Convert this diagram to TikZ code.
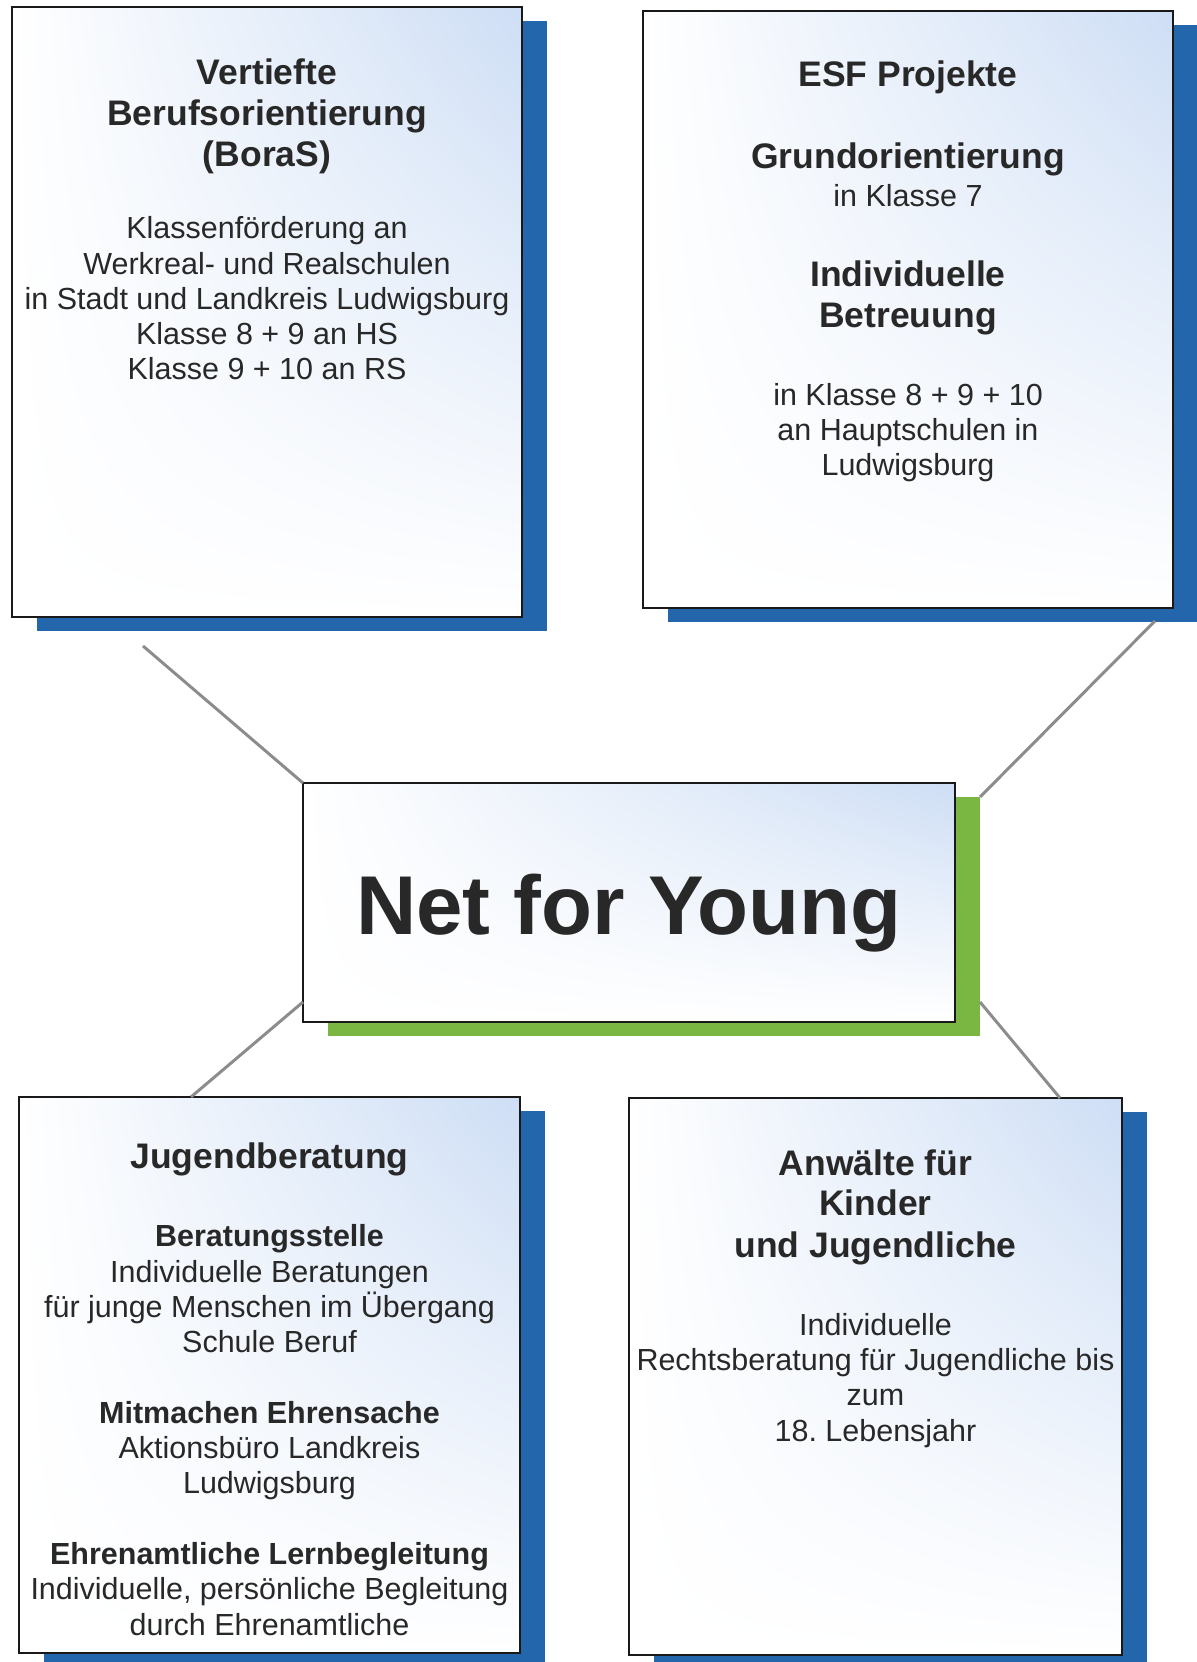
\documentclass[tikz,border=0pt]{standalone}
\usepackage{fontspec}
\setmainfont{Liberation Sans}
\usetikzlibrary{backgrounds,shadings}

\definecolor{shadowblue}{RGB}{36,102,172}
\definecolor{shadowgreen}{RGB}{122,182,66}
\definecolor{boxtint}{RGB}{206,222,245}
\definecolor{textgray}{RGB}{40,40,40}

% font sizes (same baselineskip everywhere, gaps are set by hand)
\newcommand\bodysize{\fontsize{17.35pt}{20.07pt}\selectfont}
\newcommand\headsize{\fontsize{20.2pt}{20.07pt}\selectfont\bfseries}
\frenchspacing

\tikzset{
  panel/.style={draw=black!90, line width=0.75pt, inner sep=0pt, outer sep=0pt,
    shade, upper right=boxtint, upper left=white, lower left=white, lower right=white},
  paneltext/.style={anchor=north, align=center, inner sep=0pt, text=textgray, font=\bodysize},
  link/.style={draw=black!45, line width=1.7pt}
}

\begin{document}
\begin{tikzpicture}
	\useasboundingbox (0,0) rectangle (23.92,33.24);

	% the five panels
	\node[panel, minimum width=10.2cm, minimum height=12.2cm] (boras) at (5.34,27.0) {};
	\node[panel, minimum width=10.6cm, minimum height=11.94cm] (esf) at (18.16,27.05) {};
	\node[panel, minimum width=13.04cm, minimum height=4.78cm] (young) at (12.58,15.19) {};
	\node[panel, minimum width=10.02cm, minimum height=11.12cm] (jugend) at (5.39,5.74) {};
	\node[panel, minimum width=9.86cm, minimum height=11.14cm] (anwalt) at (17.51,5.71) {};

	% coloured shadows behind them
	\begin{scope}[on background layer]
		\foreach \n/\c in {boras/shadowblue, esf/shadowblue, young/shadowgreen, jugend/shadowblue, anwalt/shadowblue} {
			\fill[\c] ([shift={(0.5,-0.28)}]\n.south west) rectangle ([shift={(0.5,-0.28)}]\n.north east);
		}
	\end{scope}

	\node[paneltext] (borastext) at ([yshift=-1.02cm]boras.north) {
		{\headsize Vertiefte}\\[3.3pt]
		{\headsize Berufsorientierung}\\[3.3pt]
		{\headsize (BoraS)}\\[21.3pt]
		Klassenförderung an\\
		Werkreal- und Realschulen\\
		in Stadt und Landkreis Ludwigsburg\\
		Klasse 8 + 9 an HS\\
		Klasse 9 + 10 an RS};

	\node[paneltext] (esftext) at ([yshift=-0.98cm]esf.north) {
		{\headsize ESF Projekte}\\[27pt]
		{\headsize Grundorientierung}\\[1.5pt]
		in Klasse 7\\[25.3pt]
		{\headsize Individuelle}\\[3.2pt]
		{\headsize Betreuung}\\[24.2pt]
		in Klasse 8 + 9 + 10\\
		an Hauptschulen in\\
		Ludwigsburg};

	\node[text=textgray, font=\fontsize{47.5pt}{50pt}\selectfont\bfseries] (youngtext) at ([yshift=-0.22cm]young.center) {Net for Young};

	\node[paneltext] (jugendtext) at ([yshift=-0.9cm]jugend.north) {
		{\headsize Jugendberatung}\\[24.7pt]
		{\bfseries Beratungsstelle}\\
		Individuelle Beratungen\\
		für junge Menschen im Übergang\\
		Schule Beruf\\[20.2pt]
		{\bfseries Mitmachen Ehrensache}\\
		Aktionsbüro Landkreis\\
		Ludwigsburg\\[20.2pt]
		{\bfseries Ehrenamtliche Lernbegleitung}\\
		Individuelle, persönliche Begleitung\\
		durch Ehrenamtliche};

	\node[paneltext] (anwalttext) at ([yshift=-1.02cm]anwalt.north) {
		{\headsize Anwälte für}\\[3.2pt]
		{\headsize Kinder}\\[3.6pt]
		{\headsize und Jugendliche}\\[24.2pt]
		Individuelle\\
		Rechtsberatung für Jugendliche bis\\
		zum\\
		18. Lebensjahr};

	% grey links to the centre
	\draw[link] ([xshift=-2.48cm,yshift=-0.58cm]boras.south) -- (young.north west);
	\draw[link] ([xshift=4.94cm,yshift=-0.26cm]esf.south) -- ([xshift=0.5cm,yshift=-0.28cm]young.north east);
	\draw[link] ([yshift=0.4cm]young.south west) -- ([xshift=-1.57cm]jugend.north);
	\draw[link] ([xshift=0.5cm,yshift=0.4cm]young.south east) -- ([xshift=3.69cm]anwalt.north);
\end{tikzpicture}
\end{document}
